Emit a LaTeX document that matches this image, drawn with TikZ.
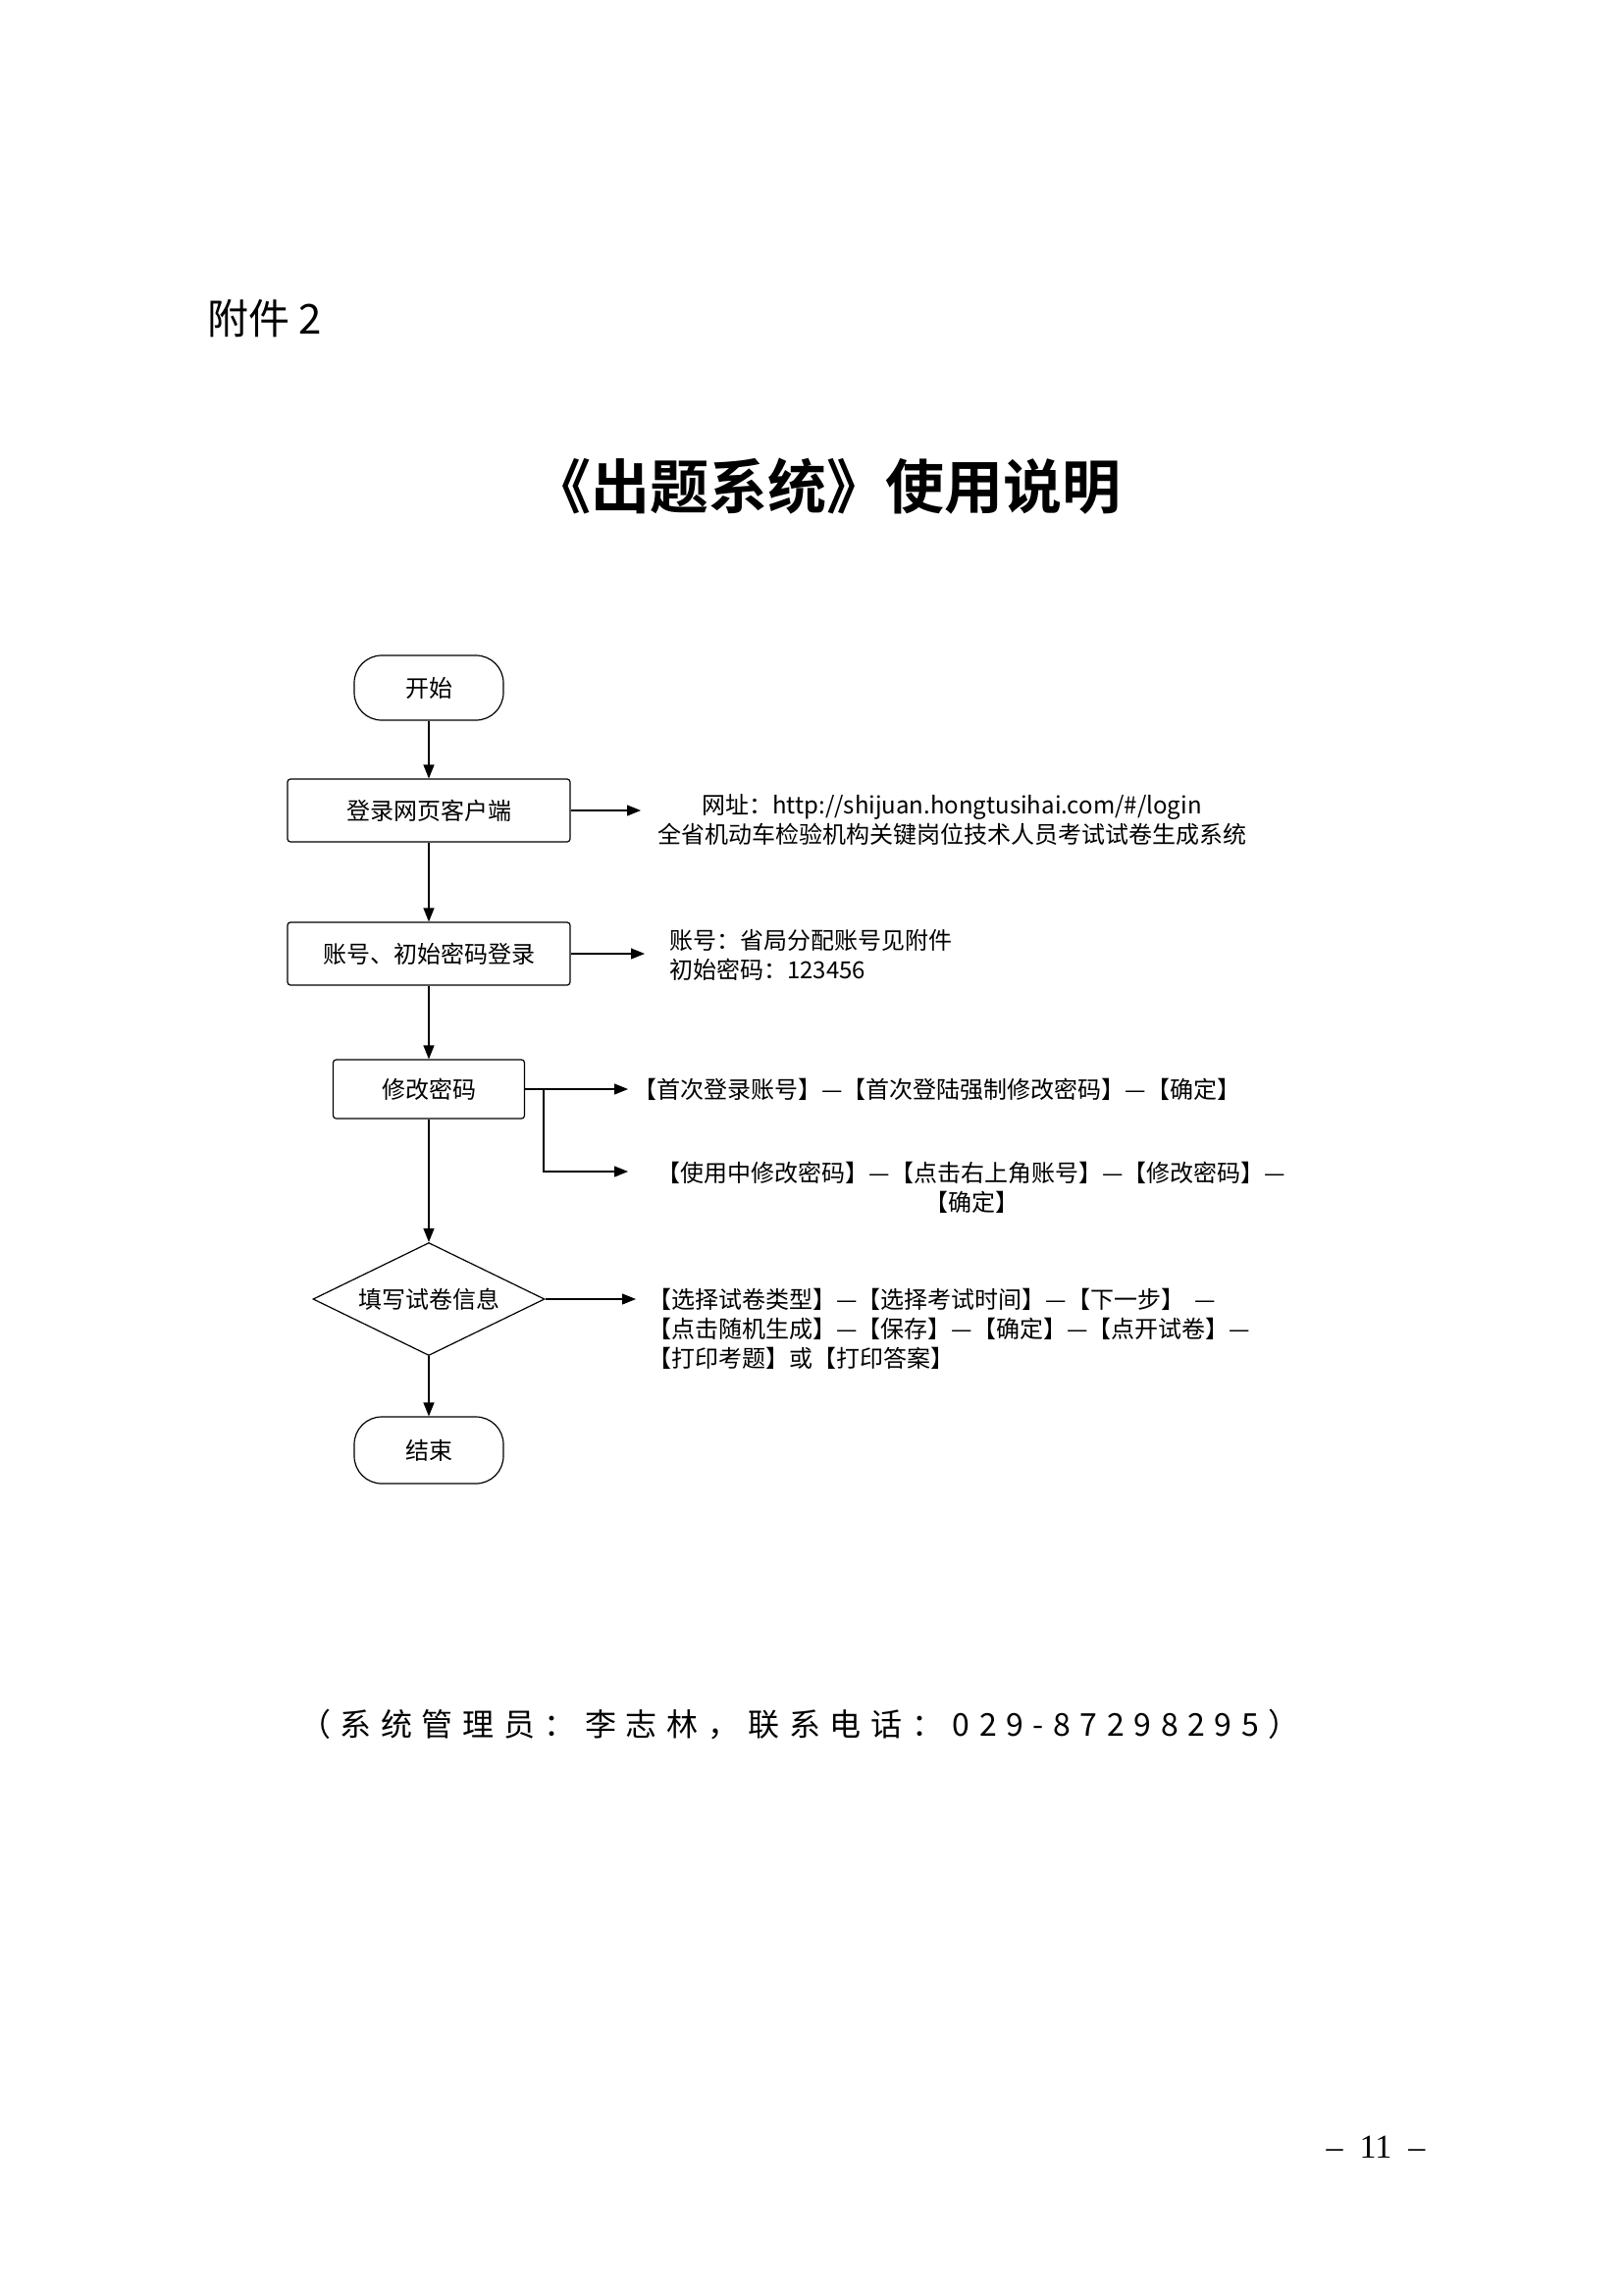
\documentclass[tikz,border=0pt]{standalone}
\usepackage{fontspec}
\setmainfont{Liberation Serif}
\newfontfamily\cjk{Noto Sans CJK SC}
\newfontfamily\cjkb{Noto Sans CJK SC}[BoldFont={* Bold}]
\usetikzlibrary{shapes.geometric,arrows.meta}
\begin{document}
\begin{tikzpicture}[x=1pt,y=-1pt,
  box/.style={draw,line width=1.2pt,rounded corners=3pt,minimum height=64pt,font=\cjk\fontsize{24}{28}\selectfont,inner sep=0pt},
  term/.style={box,rounded corners=28pt,minimum width=152pt,minimum height=66pt},
  lab/.style={font=\cjk\fontsize{24}{30}\selectfont,inner sep=0pt,align=left},
  arr/.style={line width=1.2pt,-{Triangle[length=14pt,width=11pt]}}]
\useasboundingbox (0,0) rectangle (1654,2339);
\node[font=\cjk\fontsize{42}{48}\selectfont,anchor=west] (fj) at (208,325) {附件 2};
\node[font=\cjkb\bfseries\fontsize{60}{66}\selectfont] (title) at (842,496) {《出题系统》使用说明};
\node[term] (s) at (437,701) {开始};
\node[box,minimum width=288pt] (a) at (437,826) {登录网页客户端};
\node[box,minimum width=288pt] (b) at (437,972) {账号、初始密码登录};
\node[box,minimum width=195pt,minimum height=60pt] (c) at (437,1110) {修改密码};
\node[diamond,draw,line width=1.2pt,minimum width=236pt,minimum height=115pt,aspect=2.05,inner sep=0pt,font=\cjk\fontsize{24}{28}\selectfont] (d) at (437,1324) {填写试卷信息};
\node[term,minimum height=68pt] (e) at (437,1478) {结束};
\draw[arr] (s) -- (a);
\draw[arr] (a) -- (b);
\draw[arr] (b) -- (c);
\draw[arr] (c) -- (d);
\draw[arr] (d) -- (e);
\coordinate (pa) at (653,826);
\coordinate (pb) at (657,972);
\coordinate (pc1) at (640,1110);
\coordinate (pc2) at (640,1194);
\coordinate (br) at (554,1110);
\coordinate (pd) at (648,1324);
\draw[arr] (a.east) -- (pa);
\draw[arr] (b.east) -- (pb);
\draw[arr] (c.east) -- (pc1);
\draw[arr] (br) |- (pc2);
\draw[arr] (d.east) -- (pd);
\node[lab,align=center] (ta) at (970,836) {网址：http://shijuan.hongtusihai.com/\#/login\\全省机动车检验机构关键岗位技术人员考试试卷生成系统};
\node[lab,anchor=west] (tb) at (682,973) {账号：省局分配账号见附件\\初始密码：123456};
\node[lab,anchor=west] (tc1) at (645,1110) {【首次登录账号】—【首次登陆强制修改密码】—【确定】};
\node[lab,align=center] (tc2) at (990,1210) {【使用中修改密码】—【点击右上角账号】—【修改密码】—\\【确定】};
\node[lab,anchor=west] (td) at (660,1354) {【选择试卷类型】—【选择考试时间】—【下一步】\ \ —\\【点击随机生成】—【保存】—【确定】—【点开试卷】—\\【打印考题】或【打印答案】};
\node[font=\cjk\fontsize{32}{36}\selectfont\addfontfeature{LetterSpace=30},anchor=west,inner sep=0pt] (ft) at (305,1757) {（系统管理员：李志林，联系电话：029-87298295）};
\node[font=\fontsize{34}{38}\selectfont] (pg) at (1402,2188) {–\ \ 11\ \ –};
\end{tikzpicture}
\end{document}
